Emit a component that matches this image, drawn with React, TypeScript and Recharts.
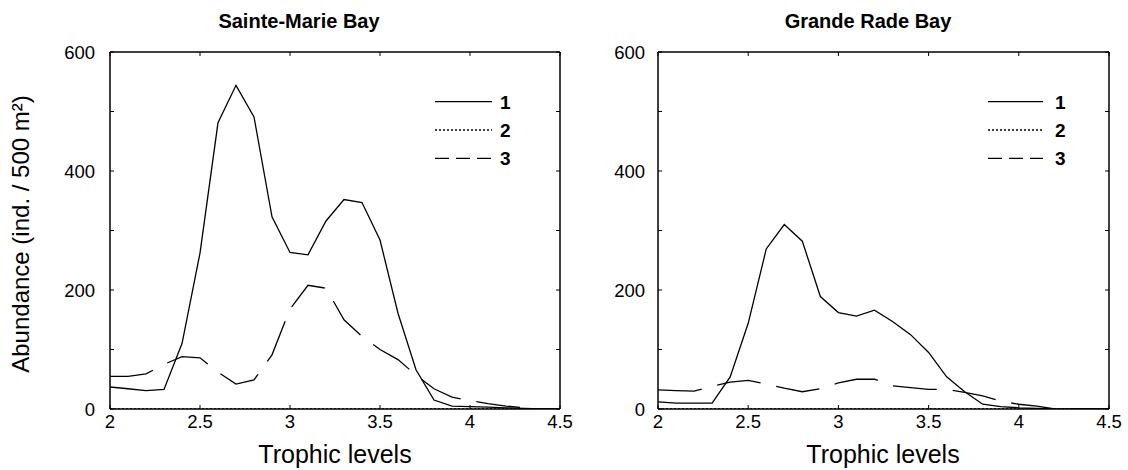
import React from 'react';
import { LineChart, Line, XAxis, YAxis, Legend } from 'recharts';

const trophicLevels = [2.0, 2.1, 2.2, 2.3, 2.4, 2.5, 2.6, 2.7, 2.8, 2.9, 3.0, 3.1, 3.2, 3.3, 3.4, 3.5, 3.6, 3.7, 3.8, 3.9, 4.0, 4.1, 4.2, 4.3, 4.4, 4.5];

const sainteMarie1 = [37, 34, 31, 33, 110, 262, 481, 544, 491, 323, 263, 259, 316, 352, 347, 284, 161, 66, 15, 5, 4, 3, 2, 1, 0, 0];
const sainteMarie2 = [0, 0, 0, 0, 0, 0, 0, 0, 0, 0, 0, 0, 0, 0, 0, 0, 0, 0, 0, 0, 0, 0, 0, 0, 0, 0];
const sainteMarie3 = [55, 55, 59, 75, 88, 86, 62, 42, 49, 91, 168, 208, 203, 150, 122, 100, 83, 57, 34, 20, 14, 9, 5, 2, 0, 0];

const grandeRade1 = [12, 10, 10, 10, 54, 144, 269, 310, 282, 189, 162, 156, 166, 147, 125, 95, 54, 29, 8, 4, 2, 1, 0, 0, 0, 0];
const grandeRade2 = [0, 0, 0, 0, 0, 0, 0, 0, 0, 0, 0, 0, 0, 0, 0, 0, 0, 0, 0, 0, 0, 0, 0, 0, 0, 0];
const grandeRade3 = [32, 31, 30, 38, 45, 48, 42, 35, 29, 34, 44, 50, 50, 39, 36, 33, 33, 28, 22, 13, 8, 5, 0, 0, 0, 0];

const seriesNames = ['1', '2', '3'];
const xTicks = [2, 2.5, 3, 3.5, 4, 4.5];
const yLabelTicks = [0, 200, 400, 600];
const yMinorTicks = [0, 100, 200, 300, 400, 500, 600];
const panelTitles = ['Sainte-Marie Bay', 'Grande Rade Bay'];
const xTitle = 'Trophic levels';
const yTitle = 'Abundance (ind. / 500 m²)';

const FONT = "'Liberation Sans', Arial, Helvetica, sans-serif";
const dashes = ['0', '2 2', '14 7'];
const plotDashes = [undefined, '2 2', '44 16'];

function buildData(a: number[], b: number[], c: number[]) {
  return trophicLevels.map((x, i) => ({ x, s1: a[i], s2: b[i], s3: c[i] }));
}

const leftData = buildData(sainteMarie1, sainteMarie2, sainteMarie3);
const rightData = buildData(grandeRade1, grandeRade2, grandeRade3);

function makeLegend(lineStart: number, lineEnd: number, labelX: number) {
  return () => (
    <svg width={labelX + 30} height={200} style={{ position: 'absolute', left: 0, top: 0, overflow: 'visible' }}>
      {seriesNames.map((n, i) => {
        const y = 101.7 + i * 28.3;
        return (
          <g key={n}>
            <line x1={lineStart} x2={lineEnd} y1={y} y2={y} stroke="#000" strokeWidth={1.3} strokeDasharray={dashes[i]} />
            <text x={labelX} y={y + 6.8} fontFamily={FONT} fontWeight="bold" fontSize={19} fill="#000">{n}</text>
          </g>
        );
      })}
    </svg>
  );
}

const axisStroke = { stroke: '#000', strokeWidth: 1.5 };
const tickStyle = { fill: '#000', fontSize: 18.5, fontFamily: FONT };
const noLabel = () => <g />;
const innerTick = { stroke: '#000', strokeWidth: 1 };

function Panel({ data, margin, tickGap, legend }: { data: any[]; margin: any; tickGap: number; legend: any }) {
  return (
    <div style={{ position: 'absolute', left: 0, top: 0 }}>
      <LineChart width={1128} height={470} data={data} margin={margin}>
        <XAxis xAxisId="b" dataKey="x" type="number" domain={[2, 4.5]} allowDataOverflow ticks={xTicks} height={30}
          tickSize={0} tickMargin={6} tickLine={false} axisLine={axisStroke} tick={tickStyle} interval={0} />
        <XAxis xAxisId="bm" dataKey="x" type="number" domain={[2, 4.5]} allowDataOverflow ticks={xTicks} mirror
          tick={noLabel} tickSize={4} tickLine={innerTick} axisLine={false} interval={0} />
        <XAxis xAxisId="t" orientation="top" dataKey="x" type="number" domain={[2, 4.5]} allowDataOverflow ticks={xTicks} mirror
          tick={noLabel} tickSize={4} tickLine={innerTick} axisLine={axisStroke} interval={0} />
        <YAxis yAxisId="l" type="number" domain={[0, 600]} allowDataOverflow ticks={yLabelTicks} width={60}
          tickSize={0} tickMargin={tickGap} tickLine={false} axisLine={axisStroke} tick={tickStyle} interval={0} />
        <YAxis yAxisId="lm" type="number" domain={[0, 600]} allowDataOverflow ticks={yMinorTicks} mirror
          tick={noLabel} tickSize={4} tickLine={innerTick} axisLine={false} interval={0} />
        <YAxis yAxisId="r" orientation="right" type="number" domain={[0, 600]} allowDataOverflow ticks={yMinorTicks} mirror
          tick={noLabel} tickSize={4} tickLine={innerTick} axisLine={axisStroke} interval={0} />
        <Line xAxisId="b" yAxisId="l" type="linear" dataKey="s1" name={seriesNames[0]} stroke="#000" strokeWidth={1.3}
          dot={false} activeDot={false} isAnimationActive={false} />
        <Line xAxisId="b" yAxisId="l" type="linear" dataKey="s2" name={seriesNames[1]} stroke="#000" strokeWidth={1.3}
          strokeDasharray={plotDashes[1]} dot={false} activeDot={false} isAnimationActive={false} />
        <Line xAxisId="b" yAxisId="l" type="linear" dataKey="s3" name={seriesNames[2]} stroke="#000" strokeWidth={1.3}
          strokeDasharray={plotDashes[2]} dot={false} activeDot={false} isAnimationActive={false} />
        <Legend layout="horizontal" verticalAlign="middle" align="center" content={legend}
          wrapperStyle={{ position: 'absolute', left: 0, top: 0, width: 10, height: 10 }} />
      </LineChart>
    </div>
  );
}

export default function App() {
  return (
    <div style={{ position: 'absolute', left: 0, top: 0, width: 1128, height: 470, background: '#fff', fontFamily: FONT }}>
      <Panel data={leftData} margin={{ top: 52, right: 568, bottom: 31, left: 50 }} tickGap={15} legend={makeLegend(435, 492, 500)} />
      <Panel data={rightData} margin={{ top: 52, right: 19, bottom: 31, left: 598 }} tickGap={13} legend={makeLegend(988, 1043, 1055)} />
      <svg width={1128} height={470} style={{ position: 'absolute', left: 0, top: 0, pointerEvents: 'none' }}>
        <text x={299} y={28} textAnchor="middle" fontFamily={FONT} fontWeight="bold" fontSize={20} fill="#000">{panelTitles[0]}</text>
        <text x={868} y={28} textAnchor="middle" fontFamily={FONT} fontWeight="bold" fontSize={20} fill="#000">{panelTitles[1]}</text>
        <text x={335} y={463} textAnchor="middle" fontFamily={FONT} fontSize={25} fill="#000">{xTitle}</text>
        <text x={883} y={463} textAnchor="middle" fontFamily={FONT} fontSize={25} fill="#000">{xTitle}</text>
        <text x={28.5} y={234} textAnchor="middle" transform="rotate(-90 28.5 234)" fontFamily={FONT} fontSize={24} fill="#000">{yTitle}</text>
      </svg>
    </div>
  );
}
